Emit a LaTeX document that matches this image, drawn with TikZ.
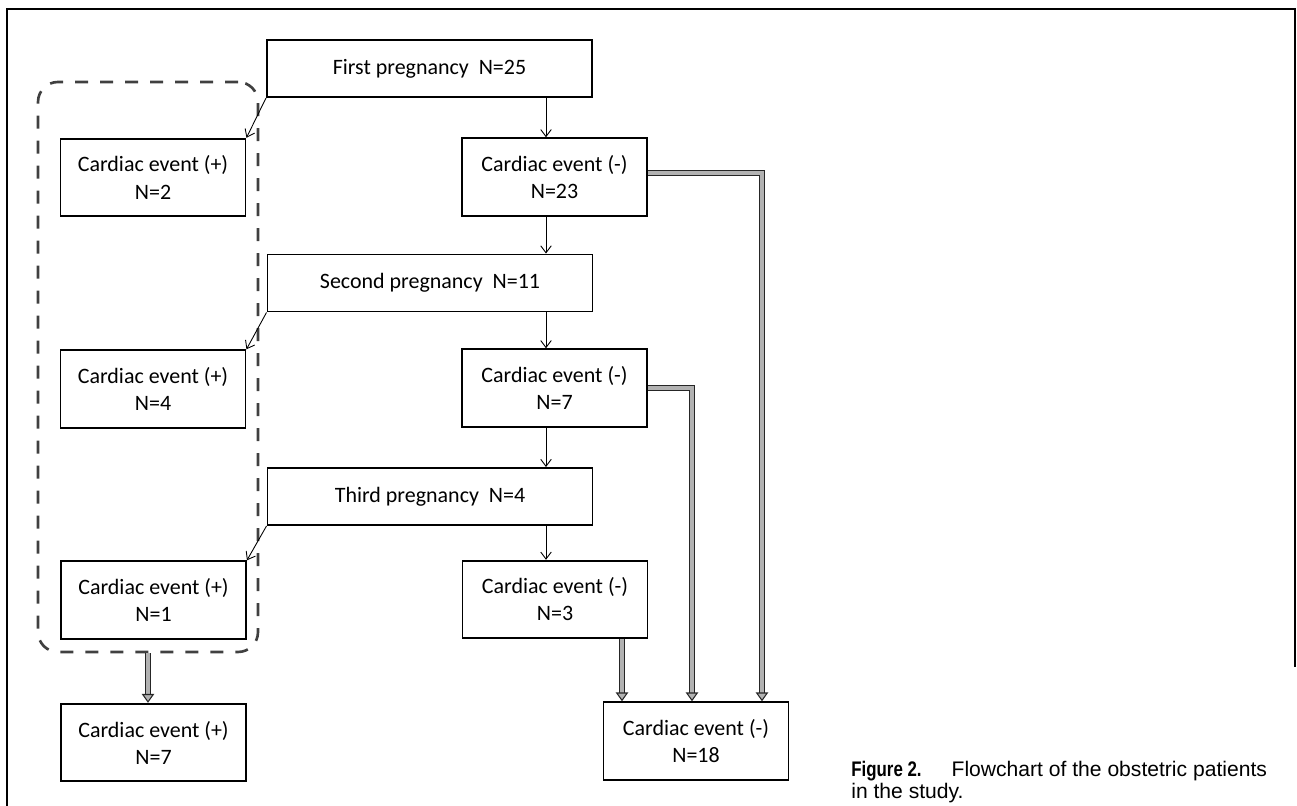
\documentclass[tikz,border=0pt]{standalone}
\usepackage{fontspec}
\usepackage{graphicx}
\setmainfont{Carlito}
\newfontfamily\capfont{Liberation Sans}
\usetikzlibrary{arrows.meta}
\tikzset{
  box/.style={draw, line width=1.1pt, inner sep=0pt, align=center,
    font=\fontsize{12.5}{15.4}\selectfont},
  widebox/.style={box, minimum width=6.5cm, minimum height=1.14cm},
  smallbox/.style={box, minimum width=3.7cm, minimum height=1.55cm},
  thinarr/.style={line width=0.5pt, -{Straight Barb[length=4pt,width=6pt]}},
  thickarr/.style={draw=black!85, line width=0.6pt, double=gray!60,
    double distance=2pt, -{Triangle[length=5pt,width=7pt,fill=gray!60]}},
  grp/.style={draw=black!75, line width=1.5pt,
    dash pattern=on 0.26cm off 0.24cm, rounded corners=0.4cm,
    minimum width=4.4cm, minimum height=11.4cm}
}
\begin{document}
\begin{tikzpicture}
  \useasboundingbox (0,0) rectangle (25.94,-16.12);
  % 外框
  \draw[line width=1.1pt] (0.14,-16.12) -- (0.14,-0.18) -- (25.9,-0.18) -- (25.9,-13.34);
  % 妊娠
  \node[widebox] (first) at (8.59,-1.37) {First pregnancy~~N=25};
  \node[widebox] (second) at (8.60,-5.66) {Second pregnancy~~N=11};
  \node[widebox] (third) at (8.60,-9.93) {Third pregnancy~~N=4};
  % 心脏事件 (+)
  \node[smallbox] (pos1) at (3.06,-3.55) {Cardiac event (+)\\N=2};
  \node[smallbox] (pos2) at (3.06,-7.78) {Cardiac event (+)\\N=4};
  \node[smallbox] (pos3) at (3.07,-12.00) {Cardiac event (+)\\N=1};
  \node[smallbox] (pos4) at (3.07,-14.85) {Cardiac event (+)\\N=7};
  % 心脏事件 (-)
  \node[smallbox] (neg1) at (11.09,-3.54) {Cardiac event (-)\\N=23};
  \node[smallbox] (neg2) at (11.09,-7.76) {Cardiac event (-)\\N=7};
  \node[smallbox] (neg3) at (11.10,-11.99) {Cardiac event (-)\\N=3};
  \node[smallbox] (neg4) at (13.92,-14.82) {Cardiac event (-)\\N=18};
  % 虚线框
  \node[grp] (grp) at (2.96,-7.34) {};
  % 列
  \coordinate (mid) at (10.92,0);
  \coordinate (c1) at (12.44,0);
  \coordinate (c2) at (13.84,0);
  \coordinate (c3) at (15.24,0);
  % 细箭头
  \draw[thinarr] (first.south -| mid) -- (neg1.north -| mid);
  \draw[thinarr] (neg1.south -| mid) -- (second.north -| mid);
  \draw[thinarr] (second.south -| mid) -- (neg2.north -| mid);
  \draw[thinarr] (neg2.south -| mid) -- (third.north -| mid);
  \draw[thinarr] (third.south -| mid) -- (neg3.north -| mid);
  \draw[thinarr] (first.south west) -- (pos1.north east);
  \draw[thinarr] (second.south west) -- (pos2.north east);
  \draw[thinarr] (third.south west) -- (pos3.north east);
  % 粗箭头
  \draw[thickarr] (grp.south) -- (grp.south |- pos4.north);
  \draw[thickarr] (neg3.south -| c1) -- (neg4.north -| c1);
  \draw[thickarr] (neg2.east) -| (neg4.north -| c2);
  \draw[thickarr] ([yshift=0.8mm]neg1.east) -| (neg4.north -| c3);
  % 图注
  \node[anchor=west, align=left, inner sep=0pt,
    font=\capfont\fontsize{12}{13}\selectfont] (cap)
    at (17.02,-15.64) {\scalebox{0.8}[1]{\bfseries Figure 2.}\hspace{0.6cm}Flowchart of the obstetric patients\\in the study.};
\end{tikzpicture}
\end{document}
